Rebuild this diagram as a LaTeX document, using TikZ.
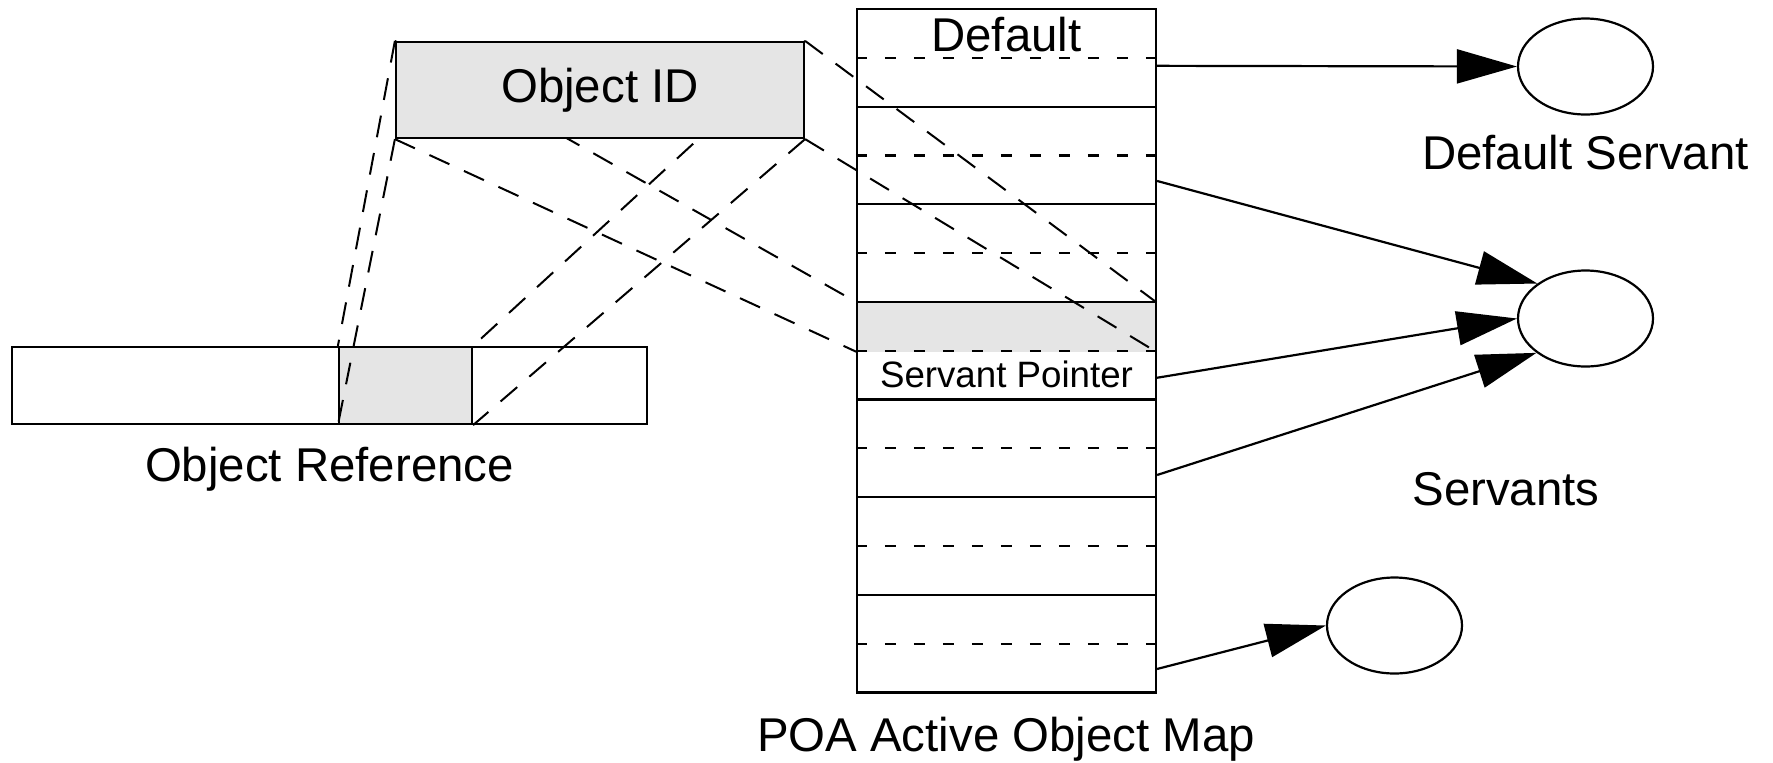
\documentclass[tikz,border=0pt]{standalone}
\usepackage{fontspec}
\setmainfont{Liberation Sans}
\usetikzlibrary{shapes.geometric,arrows.meta,calc}
\pgfdeclarelayer{bottom}
\pgfdeclarelayer{mid}
\pgfsetlayers{bottom,mid,main}
\begin{document}
\begin{tikzpicture}[x=0.5pt,y=-0.5pt,
  cell/.style={draw,line width=1.1pt,rectangle,inner sep=0pt,minimum width=149.5pt,minimum height=48.82pt},
  shade/.style={fill=black!10},
  sep/.style={line width=1.1pt,dash pattern=on 5.5pt off 9pt},
  proj/.style={line width=1pt,dash pattern=on 11pt off 8pt},
  ptr/.style={-{Triangle[length=30pt,width=17pt]},line width=1.1pt},
  servant/.style={draw,ellipse,line width=1.1pt,inner sep=0pt,minimum width=67.5pt,minimum height=48pt},
  big/.style={font=\fontsize{23.7pt}{28pt}\selectfont,inner sep=0pt,anchor=base},
  small/.style={font=\fontsize{18.35pt}{22pt}\selectfont,inner sep=0pt,anchor=base}]
\useasboundingbox (0,0) rectangle (1773,762);

\begin{pgfonlayer}{bottom}
% Object reference
\node[draw,line width=1.1pt,inner sep=0pt,minimum width=317.5pt,minimum height=38.5pt] (refbar) at (329.5,385.5) {};
\node[draw,shade,line width=1.1pt,inner sep=0pt,minimum width=66.5pt,minimum height=38.5pt] (refgray) at (405.5,385.5) {};
% Active object map
\node[shade,inner sep=0pt,minimum width=149.5pt,minimum height=24.41pt,anchor=north] (ptrgray) at (1006.5,302.28) {};
\foreach \i in {1,...,7}{
  \node[cell] (row\i) at (1006.5,{9+97.64*(\i-0.5)}) {};
  \draw[sep] (row\i.west) -- (row\i.east);
}
\end{pgfonlayer}

% Object ID (drawn on top of the projection lines)
\node[draw,shade,line width=1.1pt,inner sep=0pt,minimum width=204pt,minimum height=48pt] (oid) at (600,90) {};

\begin{pgfonlayer}{mid}
\draw[proj] (oid.north west) -- (refgray.north west);
\draw[proj] (oid.south west) -- (refgray.south west);
\draw[proj] (oid.north east) -- (refgray.north east);
\draw[proj] (oid.south east) -- (refgray.south east);
\draw[proj] (oid.north west) -- (ptrgray.north west);
\draw[proj] (oid.south west) -- (ptrgray.south west);
\draw[proj] (oid.north east) -- (ptrgray.north east);
\draw[proj] (oid.south east) -- (ptrgray.south east);
\end{pgfonlayer}

% labels
\node[big] (oidlabel) at (600,102) {Object ID};
\node[big] (deflabel) at (1006.5,51) {Default};
\node[small] (ptrlabel) at (1006.5,387) {Servant Pointer};
\node[big] (dslabel) at (1585.5,169) {Default Servant};
\node[big] (svlabel) at (1506,505) {Servants};
\node[big] (maplabel) at (1006,751) {POA Active Object Map};
\node[big] (reflabel) at (329.5,481) {Object Reference};

% servants
\node[servant] (ds) at (1585.5,66.5) {};
\node[servant] (sv) at (1585.5,318.5) {};
\node[servant] (bs) at (1394.5,625.5) {};

% pointers
\draw[ptr] ([yshift=-4pt]row1.east) -- (ds.west);
\draw[ptr] ([yshift=-12.75pt]row2.east) -- (sv.144);
\draw[ptr] ([yshift=-13.5pt]row4.east) -- (sv.west);
\draw[ptr] ([yshift=-13.3pt]row5.east) -- (sv.215);
\draw[ptr] ([yshift=-12.65pt]row7.east) -- (bs.west);
\end{tikzpicture}
\end{document}
